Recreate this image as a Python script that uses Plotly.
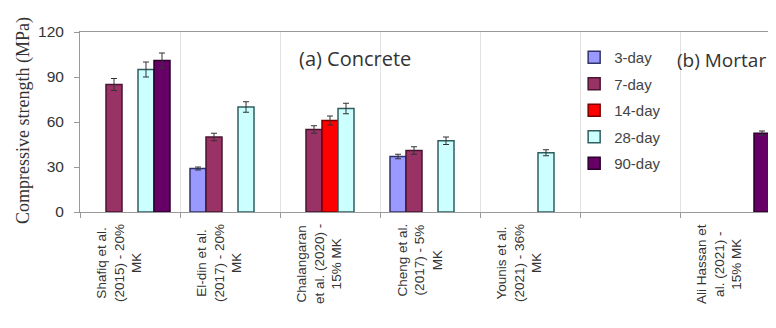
import plotly.graph_objects as go

categories = [
    "Shafiq et al.<br>(2015) - 20%<br>MK",
    "El-din et al.<br>(2017) - 20%<br>MK",
    "Chalangaran<br>et al. (2020) -<br>15% MK",
    "Cheng et al.<br>(2017) - 5%<br>MK",
    "Younis et al.<br>(2021) - 36%<br>MK",
    " ",
    "Ali Hassan et<br>al. (2021) -<br>15% MK",
]

series_names = ["3-day", "7-day", "14-day", "28-day", "90-day"]

day3 = [None, 29, None, 37, None, None, None]
day3_err = [0, 1, 0, 1.5, 0, 0, 0]
day7 = [85, 50, 55, 41, None, None, None]
day7_err = [4, 2.5, 2.5, 2.5, 0, 0, 0]
day14 = [None, None, 61, None, None, None, None]
day14_err = [0, 0, 3, 0, 0, 0, 0]
day28 = [95, 70, 69, 47.5, 39.5, None, None]
day28_err = [5, 3.5, 3.5, 2.5, 2, 0, 0]
day90 = [101, None, None, None, None, None, 52.5]
day90_err = [5, 0, 0, 0, 0, 0, 1.5]

fill_colors = ["#9999FF", "#993366", "#FF0000", "#CCFFFF", "#660066"]
line_colors = ["#33336b", "#4a1530", "#7a0000", "#2f5e5e", "#2a002a"]

values = [day3, day7, day14, day28, day90]
errors = [day3_err, day7_err, day14_err, day28_err, day90_err]

fig = go.Figure()
for name, vals, errs, fc, lc in zip(series_names, values, errors, fill_colors, line_colors):
    fig.add_trace(go.Bar(
        name=name,
        x=categories,
        y=vals,
        legendgroup=name,
        marker=dict(color=fc, line=dict(color=lc, width=1.5)),
        error_y=dict(type="data", array=errs, symmetric=True, color="#333333",
                     thickness=1, width=3),
    ))

fig.update_layout(
    width=768, height=320,
    margin=dict(l=72, r=0, t=24, b=116),
    paper_bgcolor="white", plot_bgcolor="white",
    barmode="group", bargap=0.2, bargroupgap=0,
    font=dict(family="Liberation Sans, Arial, sans-serif", color="#333333"),
    legend=dict(
        x=0.71, y=0.95, xanchor="left", yanchor="top",
        font=dict(size=15, color="#444444"),
        bgcolor="rgba(0,0,0,0)", tracegroupgap=4, itemwidth=30,
    ),
    showlegend=True,
)

fig.update_xaxes(
    type="category", categoryorder="array", categoryarray=categories,
    range=[-0.5, 6.46], showticklabels=False,
    tickson="boundaries", ticks="outside", ticklen=5, tickcolor="#999999",
    showgrid=True, gridcolor="#e2e2e2", gridwidth=1,
    showline=True, linecolor="#999999", linewidth=1, mirror=True,
)
fig.update_yaxes(
    range=[0, 120], tickvals=[0, 30, 60, 90, 120],
    ticks="outside", ticklen=5, tickcolor="#999999",
    tickfont=dict(size=15.5, color="#333333"), ticklabelstandoff=7,
    showgrid=False, zeroline=False,
    showline=True, linecolor="#999999", linewidth=1,
)

# category labels, centred multi-line, rotated
for cat in categories:
    if cat.strip():
        fig.add_annotation(
            x=cat, xref="x", y=0, yref="y",
            text=cat, textangle=-90, align="center",
            xanchor="center", yanchor="top", yshift=-10, xshift=-11,
            showarrow=False, font=dict(size=13.5, color="#333333"),
        )

# axis title
fig.add_annotation(
    x=-0.082, xref="paper", y=0.511, yref="paper",
    text="Compressive strength (MPa)", textangle=-90,
    xanchor="center", yanchor="middle", showarrow=False,
    font=dict(family="Liberation Serif, Times New Roman, serif", size=18, color="#333333"),
)

# panel labels
fig.add_annotation(
    x=0.312, xref="paper", y=0.855, yref="paper",
    text="(a) Concrete", xanchor="left", yanchor="middle", showarrow=False,
    font=dict(family="Open Sans, sans-serif", size=20, color="#333333"),
)
fig.add_annotation(
    x=0.855, xref="paper", y=0.845, yref="paper",
    text="(b) Mortar", xanchor="left", yanchor="middle", showarrow=False,
    font=dict(family="Open Sans, sans-serif", size=19, color="#333333"),
)

fig.write_html("out.html")
